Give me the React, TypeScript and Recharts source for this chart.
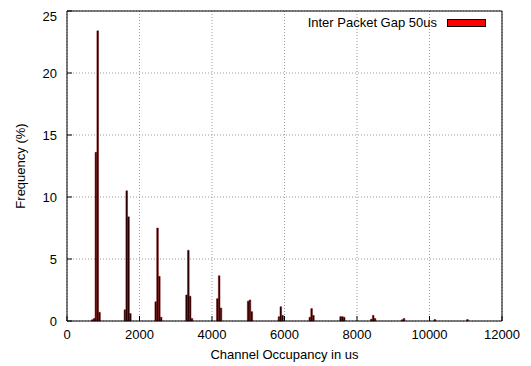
import React from "react";
import { BarChart, Bar, XAxis, YAxis, CartesianGrid, Legend } from "recharts";

// histogram bins (us) and frequency (%)
const occupancy = [
  700, 750, 800, 850, 900,
  1600, 1650, 1700, 1750,
  2450, 2500, 2550, 2600,
  3300, 3350, 3400, 3450,
  4150, 4200, 4250,
  5000, 5050, 5100,
  5850, 5900, 5950,
  6700, 6750, 6800,
  7550, 7600, 7650,
  8400, 8450, 8500,
  9250, 9300,
  10150,
  11050,
];
const frequency = [
  0.1, 0.2, 13.6, 23.4, 0.7,
  0.9, 10.5, 8.4, 0.6,
  1.55, 7.5, 3.6, 0.3,
  2.1, 5.7, 2.0, 0.2,
  1.8, 3.65, 1.05,
  1.6, 1.7, 0.75,
  0.35, 1.15, 0.45,
  0.3, 1.0, 0.45,
  0.35, 0.35, 0.3,
  0.15, 0.45, 0.2,
  0.1, 0.2,
  0.12,
  0.12,
];
const xTicks = [0, 2000, 4000, 6000, 8000, 10000, 12000];
const yTicks = [0, 5, 10, 15, 20, 25];
const seriesName = "Inter Packet Gap 50us";

const FONT = '"Liberation Sans", Arial, sans-serif';

const data = occupancy.map((x, i) => ({ x, freq: frequency[i] }));

const tickStyle = { fill: "#000", fontSize: 13, fontFamily: FONT };

const renderLegend = () => (
  <div
    style={{
      display: "flex",
      justifyContent: "flex-end",
      alignItems: "center",
      fontFamily: FONT,
      fontSize: 13,
      color: "#000",
    }}
  >
    <span>{seriesName}</span>
    <span
      style={{
        display: "inline-block",
        boxSizing: "border-box",
        width: 39,
        height: 8,
        marginLeft: 10,
        background: "#ff0000",
        border: "1px solid #000",
      }}
    />
  </div>
);

const App = () => {
  return (
    <BarChart
      width={523}
      height={358}
      data={data}
      margin={{ top: 2, right: 28, bottom: 0, left: 9 }}
      barSize={2}
    >
      <CartesianGrid stroke="#999" strokeDasharray="1 2" />
      <XAxis
        dataKey="x"
        type="number"
        domain={[0, 12000]}
        ticks={xTicks}
        height={45}
        stroke="#000"
        tickSize={-5}
        tickMargin={14}
        tick={tickStyle}
        label={{
          value: "Channel Occupancy in us",
          position: "insideBottom",
          offset: 7,
          style: { fill: "#000", fontSize: 13, fontFamily: FONT },
        }}
      />
      <XAxis
        xAxisId="top"
        orientation="top"
        type="number"
        domain={[0, 12000]}
        ticks={xTicks}
        height={1}
        stroke="#000"
        tickSize={-5}
        tick={false}
      />
      <YAxis
        type="number"
        domain={[0, 25]}
        ticks={yTicks}
        width={50}
        stroke="#000"
        tickSize={-5}
        tickMargin={15}
        tick={tickStyle}
        label={{
          value: "Frequency (%)",
          angle: -90,
          position: "insideLeft",
          offset: 3,
          style: { textAnchor: "middle", fill: "#000", fontSize: 13, fontFamily: FONT },
        }}
      />
      <YAxis
        yAxisId="right"
        orientation="right"
        type="number"
        domain={[0, 25]}
        ticks={yTicks}
        width={1}
        stroke="#000"
        tickSize={-5}
        tick={false}
      />
      <Legend
        layout="horizontal"
        verticalAlign="middle"
        align="center"
        wrapperStyle={{ top: 7, left: 0, width: 478 }}
        content={renderLegend}
      />
      <Bar
        dataKey="freq"
        name={seriesName}
        fill="#1a0000"
        stroke="#7a0000"
        strokeWidth={0.5}
        isAnimationActive={false}
      />
    </BarChart>
  );
};

export default App;
